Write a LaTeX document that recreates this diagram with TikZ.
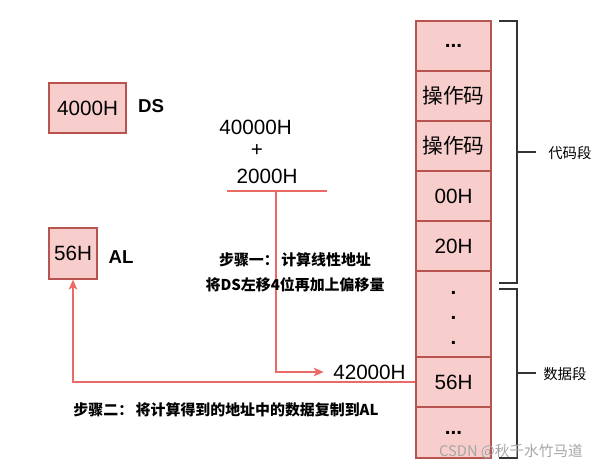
\documentclass[tikz,border=0pt]{standalone}
\usepackage{fontspec}
\setmainfont{Liberation Sans}
\newfontfamily\cjk{Noto Sans CJK SC}
\usetikzlibrary{arrows.meta}
\definecolor{cellfill}{HTML}{F8CECC}
\definecolor{celldraw}{HTML}{B85450}
\definecolor{arr}{HTML}{EA6B66}
\definecolor{brace}{HTML}{333333}
\begin{document}
\begin{tikzpicture}[x=0.75pt,y=-0.75pt,
  box/.style={draw=celldraw, fill=cellfill, line width=1pt, inner sep=0pt,
    font=\fontsize{15.5}{18}\selectfont},
  cell/.style={box, minimum width=56.25pt, minimum height=37.5pt},
  boldtxt/.style={font=\bfseries\fontsize{15.5}{18}\selectfont},
  lbl/.style={inner sep=0pt, font=\bfseries\fontsize{14}{16}\selectfont},
  plain/.style={inner sep=0pt, font=\fontsize{15.5}{18}\selectfont},
  stepnote/.style={inner sep=0pt, font=\cjk\bfseries\fontsize{11.2}{13}\selectfont},
  seg/.style={inner sep=0pt, font=\cjk\fontsize{10.8}{13}\selectfont},
  bracket/.style={draw=brace, line width=1pt},
  conn/.style={draw=arr, line width=1.1pt},
  tip/.style={-{Stealth[length=7.5pt,width=6.5pt,inset=2pt]}}
]
\useasboundingbox (0,0) rectangle (606,470);

% registers
\node[box, minimum width=57.75pt, minimum height=37.5pt] (ds) at (87.5,108) {4000H};
\node[lbl, anchor=center] (dsl) at (151,106) {DS};
\node[box, minimum width=36pt, minimum height=38.25pt] (al) at (73,253.5) {56H};
\node[lbl, anchor=center] (all) at (121,257) {AL};

% memory column
\node[cell, boldtxt] (c1) at (453.5,46) {...};
\node[cell] (c2) at (453.5,96) {\cjk 操作码};
\node[cell] (c3) at (453.5,146) {\cjk 操作码};
\node[cell] (c4) at (453.5,196) {00H};
\node[cell] (c5) at (453.5,246) {20H};
\node[cell, minimum height=64.5pt] (c6) at (453.5,314) {};
\node[plain, boldtxt] (d1) at (453.5,293) {.};
\node[plain, boldtxt] (d2) at (453.5,318) {.};
\node[plain, boldtxt] (d3) at (453.5,343) {.};
\node[cell] (c7) at (453.5,382) {56H};
\node[cell, minimum height=38.25pt, boldtxt] (c8) at (453.5,432.5) {...};

% brackets
\draw[bracket] (499,21) -- (517,21) -- (517,283) -- (499,283);
\draw[bracket] (517,152) -- (536,152);
\node[seg, anchor=west] (code) at (548,153) {代码段};
\draw[bracket] (499,289) -- (517,289) -- (517,458) -- (499,458);
\draw[bracket] (517,373) -- (536,373);
\node[seg, anchor=west] (data) at (543,374) {数据段};

% sum
\node[plain] (a1) at (255.5,127) {40000H};
\node[plain] (plus) at (257,151) {+};
\node[plain] (a2) at (267,176) {2000H};
\coordinate (sumL) at (227,191);
\coordinate (sumR) at (327,191);
\coordinate (sumM) at (276,191);
\draw[conn] (sumL) -- (sumR);
\node[plain, anchor=west] (res) at (333,372) {42000H};
\draw[conn, tip] (sumM) |- ([xshift=-7pt]res.west);

\node[stepnote] (s1a) at (295,260) {步骤一：\,计算线性地址};
\node[stepnote] (s1b) at (295,285) {将DS左移4位再加上偏移量};

% step two
\draw[conn, tip] (c7.west) -| (al.south);
\node[stepnote] (s2) at (226,410) {步骤二：\,将计算得到的地址中的数据复制到AL};

% watermark
\node[inner sep=0pt, text=black!35, font=\cjk\fontsize{11}{13}\selectfont] (wm) at (511,452) {CSDN @秋千水竹马道};
\end{tikzpicture}
\end{document}
